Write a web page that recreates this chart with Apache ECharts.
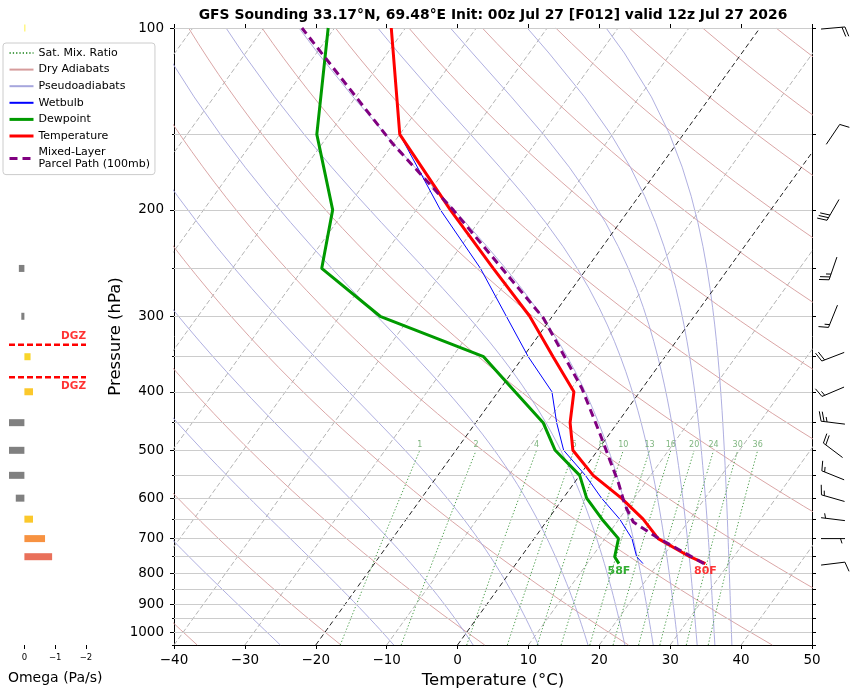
<!DOCTYPE html>
<html>
<head>
<meta charset="utf-8">
<title>GFS Sounding</title>
<script src="https://cdn.jsdelivr.net/npm/echarts@6/dist/echarts.min.js"></script>
<style>
  html, body { margin: 0; padding: 0; background: #fff; }
  #chart { width: 854px; height: 694px; }
</style>
</head>
<body>
<div id="chart"></div>
<script>
// ==============================
// data
// ==============================

// sounding (hPa / °C)
const tempP = [100, 150, 200, 250, 300, 350, 400, 450, 500, 550, 600, 650, 700, 750, 770];
const tempT = [-72.0, -60.0, -45.2, -33.2, -23.2, -15.8, -9.3, -6.7, -3.5, 1.9, 8.2, 13.4, 17.5, 23.8, 26.7];
const dewT  = [-80.9, -71.7, -61.8, -57.4, -44.3, -25.6, -17.6, -10.5, -6.0, 0.0, 3.3, 7.6, 11.9, 13.2, 14.5];

const wetP = [150, 200, 250, 300, 350, 400, 450, 500, 550, 600, 650, 700, 750, 770];
const wetT = [-60.0, -46.6, -35.0, -26.5, -19.3, -12.4, -8.6, -4.8, 0.8, 5.4, 10.1, 13.8, 16.3, 17.9];

const parcelP = [770, 696, 657, 616, 567, 469, 395, 302, 200, 155, 100];
const parcelT = [26.5, 17.1, 12.3, 9.4, 6.3, -1.4, -8.5, -21.1, -44.8, -60.2, -84.6];

// winds (deg from, kt)
const windP   = [100, 150, 200, 250, 300, 350, 400, 450, 500, 550, 600, 650, 700, 770];
const windDir = [85, 34, 210, 199, 202, 249, 247, 277, 307, 292, 286, 277, 90, 83];
const windKt  = [20, 10, 30, 25, 15, 20, 15, 25, 20, 15, 15, 5, 5, 10];

// omega (Pa/s)
const omegaP = [100, 150, 200, 250, 300, 350, 400, 450, 500, 550, 600, 650, 700, 750];
const omega  = [-0.03, 0, 0, 0.18, 0.1, -0.2, -0.28, 0.5, 0.5, 0.5, 0.28, -0.28, -0.67, -0.9];

// background lines
const dryTheta  = [-40, -20, 0, 20, 40, 60, 80, 100, 120, 140, 160, 180, 200, 220];   // °C
const moistBase = [-25, -9, 2.2, 11.4, 18.4, 23.6, 27.6, 31.1, 33.8, 36.3, 38.7];   // °C at bottom
const mixRatios = [1, 2, 4, 6, 8, 10, 13, 16, 20, 24, 30, 36];                       // g/kg
const isoT      = [-100, -90, -80, -70, -60, -50, -40, -30, -10, 10, 20, 30, 40];
const markIsoT  = [-20, 0];
const dgzT      = [-18, -12];

// pressure ticks
const gridP  = [100, 150, 200, 250, 300, 350, 400, 450, 500, 550, 600, 650, 700, 750, 800, 850, 900, 950, 1000];
const labelP = [100, 200, 300, 400, 500, 600, 700, 800, 900, 1000];
const minorP = [150, 250, 350, 450, 550, 650, 750, 850, 950, 1050];
const omegaTicks = [0, -1, -2];

// ==============================
// skew-T helpers
// ==============================

const P_TOP = 100, P_BOT = 1050;
const SKEW = 61.35;            // °C per decade of pressure
const RD = 287.04, CP = 1004.67, LV = 2.501e6, EPS = 0.622;
const FONT = 'DejaVu Sans';

function skewX(t, p) { return t + SKEW * Math.log10(P_BOT / p); }
function pairs(ts, ps) { return ts.map((t, i) => [skewX(t, ps[i]), ps[i]]); }
function joinLines(lines) {
  const out = [];
  lines.forEach((ln, i) => { if (i) out.push([null, null]); ln.forEach(pt => out.push(pt)); });
  return out;
}
function logLevels(p0, p1, n) {
  const a = Math.log(p0), b = Math.log(p1), out = [];
  for (let i = 0; i <= n; i++) out.push(Math.exp(a + (b - a) * i / n));
  return out;
}
const lg = v => Math.log10(v);
const minus = v => (v < 0 ? '\u2212' + Math.abs(v) : String(v));

function dryLine(thC) {
  return logLevels(P_BOT, P_TOP, 40).map(p => {
    const t = (thC + 273.15) * Math.pow(p / 1000, RD / CP) - 273.15;
    return [skewX(t, p), p];
  });
}

function moistRate(T, p) {
  const tc = T - 273.15;
  const es = 6.112 * Math.exp(17.67 * tc / (tc + 243.5));
  const rs = EPS * es / (p - es);
  return (RD * T + LV * rs) / (CP + LV * LV * rs * EPS / (RD * T * T)) / p;
}
function moistLine(t0) {
  let T = t0 + 273.15, p = P_BOT, n = 0;
  const pts = [[skewX(t0, p), p]];
  while (p > P_TOP + 1e-6) {
    const h = Math.max(-5, P_TOP - p);
    const k1 = moistRate(T, p);
    const k2 = moistRate(T + h * k1 / 2, p + h / 2);
    const k3 = moistRate(T + h * k2 / 2, p + h / 2);
    const k4 = moistRate(T + h * k3, p + h);
    T += h * (k1 + 2 * k2 + 2 * k3 + k4) / 6;
    p += h; n++;
    if (n % 4 === 0 || p <= P_TOP + 1e-6) pts.push([skewX(T - 273.15, p), p]);
  }
  return pts;
}

function dewFromMix(w, p) {
  const e = w * p / (622 + w);
  const l = Math.log(e / 6.112);
  return 243.5 * l / (17.67 - l);
}
function mixLine(w) {
  return logLevels(P_BOT, 500, 12).map(p => [skewX(dewFromMix(w, p), p), p]);
}

// pressure where the temperature profile first reaches t (from the ground up)
function levelOf(t) {
  for (let i = tempP.length - 1; i > 0; i--) {
    const a = tempT[i], b = tempT[i - 1];
    if ((a - t) * (b - t) <= 0 && a !== b) {
      const f = (t - a) / (b - a);
      return Math.exp(Math.log(tempP[i]) + f * (Math.log(tempP[i - 1]) - Math.log(tempP[i])));
    }
  }
  return null;
}

function omegaColor(v) {
  if (v >= 0) return '#808080';
  const a = -v;
  if (a < 0.1) return '#fff03a';
  if (a < 0.25) return '#f8d52a';
  if (a < 0.5) return '#fbc82b';
  if (a < 0.8) return '#f79241';
  return '#e9705a';
}

// ==============================
// custom renderers
// ==============================

const BARB_LEN = 24;

function renderBarb(params, api) {
  const c = api.coord([0.5, api.value(0)]);
  const rad = api.value(1) * Math.PI / 180;
  const ux = Math.sin(rad), uy = -Math.cos(rad);
  const vx = -uy, vy = ux;
  const L = BARB_LEN, h = 0.4 * L, w = 0.25 * L, sp = 0.125 * L;
  const sx = c[0] - ux * L / 2, sy = c[1] - uy * L / 2;
  const seg = (x1, y1, x2, y2) => ({
    type: 'line', shape: { x1, y1, x2, y2 }, style: { stroke: '#000', lineWidth: 1 }
  });
  const kids = [seg(sx, sy, sx + ux * L, sy + uy * L)];
  const kt = Math.round(api.value(2) / 5) * 5;
  const full = Math.floor(kt / 10), half = kt % 10 >= 5;
  let off = L;
  for (let i = 0; i < full; i++) {
    const bx = sx + ux * off, by = sy + uy * off;
    kids.push(seg(bx, by, bx + h * vx + w / 2 * ux, by + h * vy + w / 2 * uy));
    off -= sp;
  }
  if (half) {
    if (full === 0) off -= 1.5 * sp;
    const bx = sx + ux * off, by = sy + uy * off;
    kids.push(seg(bx, by, bx + h / 2 * vx + w / 4 * ux, by + h / 2 * vy + w / 4 * uy));
  }
  return { type: 'group', children: kids };
}

function renderOmega(params, api) {
  const v = api.value(0), p = api.value(1);
  const a = api.coord([0, p]), b = api.coord([v, p]);
  return {
    type: 'rect',
    shape: { x: Math.min(a[0], b[0]), y: a[1] - 3.5, width: Math.abs(b[0] - a[0]), height: 7 },
    style: { fill: omegaColor(v) }
  };
}

// ==============================
// chart
// ==============================

const chart = echarts.init(document.getElementById('chart'), null, { renderer: 'canvas' });

const sfc = tempP.length - 1;
const dgzP = dgzT.map(levelOf);
const PARCEL_NAME = 'Mixed-Layer\nParcel Path (100mb)';

const logY = (grid) => ({
  gridIndex: grid, type: 'log', logBase: 10, min: P_TOP, max: P_BOT, inverse: true,
  axisLine: { show: false }, axisTick: { show: false }, axisLabel: { show: false }, splitLine: { show: false }
});
const tickY = (extra) => Object.assign({
  gridIndex: 0, type: 'value', min: lg(P_TOP), max: lg(P_BOT), inverse: true,
  axisLine: { show: false, onZero: false }, axisLabel: { show: false }, splitLine: { show: false }
}, extra);

const lineBase = { type: 'line', xAxisIndex: 0, yAxisIndex: 0, symbol: 'none', silent: true, animation: false, connectNulls: false };

function curve(name, color, width, type, z, data) {
  return Object.assign({}, lineBase, {
    name, z, data,
    itemStyle: { color },
    lineStyle: { color, width, type }
  });
}

chart.setOption({
  animation: false,
  textStyle: { fontFamily: FONT },
  graphic: [{
    type: 'text', x: 493, y: 15,
    style: {
      text: 'GFS Sounding 33.17°N, 69.48°E Init: 00z Jul 27 [F012] valid 12z Jul 27 2026',
      fontFamily: FONT, fontSize: 13.9, fontWeight: 'bold', fill: '#000',
      align: 'center', verticalAlign: 'middle', textAlign: 'center', textVerticalAlign: 'middle'
    }
  }],
  legend: {
    orient: 'vertical', left: 3, top: 43,
    padding: [4, 5, 4, 5], itemGap: 4.6, itemWidth: 24, itemHeight: 11,
    backgroundColor: 'rgba(255,255,255,0.85)', borderColor: '#cccccc', borderWidth: 1, borderRadius: 3,
    itemStyle: { opacity: 0 },
    textStyle: { fontFamily: FONT, fontSize: 11, color: '#000', lineHeight: 12 },
    data: [
      'Sat. Mix. Ratio', 'Dry Adiabats', 'Pseudoadiabats', 'Wetbulb',
      { name: 'Dewpoint', lineStyle: { width: 3 } },
      { name: 'Temperature', lineStyle: { width: 3 } },
      { name: PARCEL_NAME, lineStyle: { width: 3 } }
    ]
  },
  grid: [
    { left: 174, right: 42, top: 28, bottom: 49, outerBoundsMode: 'none' },
    { left: 9, width: 92.4, top: 28, bottom: 49, outerBoundsMode: 'none' },
    { left: 812, right: 0, top: 28, bottom: 49, outerBoundsMode: 'none' }
  ],
  xAxis: [
    {
      gridIndex: 0, type: 'value', min: -40, max: 50, interval: 10, position: 'bottom',
      axisLine: { show: true, onZero: false, lineStyle: { color: '#000', width: 1 } },
      axisTick: { show: true, length: 4, lineStyle: { color: '#000' } },
      axisLabel: { color: '#000', fontSize: 13.5, margin: 8, formatter: minus },
      splitLine: { show: false },
      name: 'Temperature (°C)', nameLocation: 'middle', nameGap: 27, nameMoveOverlap: false,
      nameTextStyle: { color: '#000', fontSize: 16.5 }
    },
    {
      gridIndex: 0, type: 'value', min: -40, max: 50, interval: 10, position: 'top',
      axisLine: { show: true, onZero: false, lineStyle: { color: '#000', width: 1 } },
      axisTick: { show: true, length: 4, lineStyle: { color: '#000' } },
      axisLabel: { show: false }, splitLine: { show: false }
    },
    {
      gridIndex: 1, type: 'value', min: -2.5, max: 0.5, inverse: true,
      axisLine: { show: false, onZero: false },
      axisTick: { show: true, length: 4, customValues: omegaTicks, lineStyle: { color: '#000' } },
      axisLabel: { customValues: omegaTicks, color: '#000', fontSize: 8.5, margin: 8, formatter: minus },
      splitLine: { show: false },
      name: 'Omega (Pa/s)', nameLocation: 'middle', nameGap: 26, nameMoveOverlap: false,
      nameTextStyle: { color: '#000', fontSize: 14 }
    },
    { gridIndex: 2, type: 'value', min: 0, max: 1, show: false }
  ],
  yAxis: [
    logY(0),
    tickY({
      position: 'left',
      axisLine: { show: true, onZero: false, lineStyle: { color: '#000', width: 1 } },
      axisTick: { show: true, length: 4, customValues: labelP.map(lg), lineStyle: { color: '#000' } },
      axisLabel: {
        show: true, customValues: labelP.map(lg), color: '#000', fontSize: 13.5, margin: 10,
        formatter: v => String(Math.round(Math.pow(10, v)))
      },
      name: 'Pressure (hPa)', nameLocation: 'middle', nameGap: 50, nameMoveOverlap: false,
      nameTextStyle: { color: '#000', fontSize: 16.5 }
    }),
    tickY({
      position: 'left',
      axisTick: { show: true, length: 2, customValues: minorP.map(lg), lineStyle: { color: '#000' } }
    }),
    tickY({
      position: 'right',
      axisLine: { show: true, onZero: false, lineStyle: { color: '#000', width: 1 } },
      axisTick: { show: true, length: 4, customValues: gridP.concat([P_BOT]).map(lg), lineStyle: { color: '#000' } }
    }),
    logY(1),
    logY(2)
  ],
  series: [
    Object.assign(curve('isotherms', '#b4b4b4', 1, [5, 2.5], 1,
      joinLines(isoT.map(t => [[skewX(t, P_BOT), P_BOT], [skewX(t, P_TOP), P_TOP]]))), {
      markLine: {
        silent: true, symbol: 'none', animation: false, label: { show: false },
        lineStyle: { color: '#cccccc', width: 1, type: 'solid' },
        data: gridP.map(p => ({ yAxis: p }))
      }
    }),
    curve('Dry Adiabats', '#d69c9c', 0.9, 'solid', 2, joinLines(dryTheta.map(dryLine))),
    curve('Pseudoadiabats', '#a6a6dd', 0.9, 'solid', 2, joinLines(moistBase.map(moistLine))),
    curve('Sat. Mix. Ratio', '#4f9f4f', 1, [1.3, 2], 2, joinLines(mixRatios.map(mixLine))),
    {
      name: 'mixLabels', type: 'scatter', xAxisIndex: 0, yAxisIndex: 0, symbolSize: 0, silent: true, z: 3,
      data: mixRatios.map(w => [skewX(dewFromMix(w, 500), 500), 500, w]),
      label: { show: true, position: 'top', distance: 1, formatter: p => String(p.value[2]), color: '#5ea35e', fontSize: 8 }
    },
    curve('isoMark', '#222222', 1, [5, 3], 3,
      joinLines(markIsoT.map(t => [[skewX(t, P_BOT), P_BOT], [skewX(t, P_TOP), P_TOP]]))),
    curve('Wetbulb', '#0000ff', 1, 'solid', 4, pairs(wetT, wetP)),
    curve('Dewpoint', '#009a00', 3, 'solid', 5, pairs(dewT, tempP)),
    curve('Temperature', '#ff0000', 3, 'solid', 5, pairs(tempT, tempP)),
    curve(PARCEL_NAME, '#800080', 3, [8, 5], 6, pairs(parcelT, parcelP)),
    {
      name: 'sfcLabels', type: 'scatter', xAxisIndex: 0, yAxisIndex: 0, symbolSize: 0, silent: true, z: 7,
      data: [
        { value: [skewX(dewT[sfc], tempP[sfc]), tempP[sfc]], label: { color: '#009a00' },
          txt: Math.round(dewT[sfc] * 9 / 5 + 32) + 'F' },
        { value: [skewX(tempT[sfc], tempP[sfc]), tempP[sfc]], label: { color: '#ff0000' },
          txt: Math.round(tempT[sfc] * 9 / 5 + 32) + 'F' }
      ],
      label: {
        show: true, position: 'bottom', distance: 2, fontSize: 11, fontWeight: 'bold',
        formatter: p => p.data.txt
      }
    },
    {
      name: 'omega', type: 'custom', xAxisIndex: 2, yAxisIndex: 4, silent: true, animation: false,
      data: omegaP.map((p, i) => [omega[i], p]),
      encode: { x: 0, y: 1 },
      renderItem: renderOmega
    },
    Object.assign({}, lineBase, {
      name: 'dgz', xAxisIndex: 2, yAxisIndex: 4, z: 3,
      data: joinLines(dgzP.map(p => [[0.5, p], [-2.0, p]])),
      lineStyle: { color: '#ff0000', width: 2.5, type: [6, 3] }
    }),
    {
      name: 'dgzLabels', type: 'scatter', xAxisIndex: 2, yAxisIndex: 4, symbolSize: 0, silent: true, z: 4,
      data: dgzP.map((p, i) => ({
        value: [-2.0, p],
        label: i === 0
          ? { position: [0, -3], verticalAlign: 'bottom' }
          : { position: [0, 4], verticalAlign: 'top' }
      })),
      label: {
        show: true, formatter: 'DGZ', align: 'right', color: '#ff0000', fontSize: 10.5, fontWeight: 'bold'
      }
    },
    {
      name: 'barbs', type: 'custom', xAxisIndex: 3, yAxisIndex: 5, silent: true, animation: false,
      data: windP.map((p, i) => [p, windDir[i], windKt[i]]),
      encode: { y: 0 },
      renderItem: renderBarb
    }
  ]
});

window.addEventListener('resize', () => chart.resize());
</script>
</body>
</html>
